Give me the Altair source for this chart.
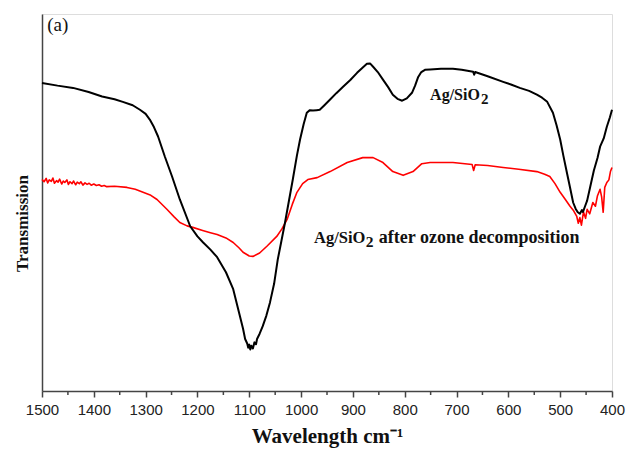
import altair as alt
import pandas as pd

# Ag/SiO2 (black) spectrum: wavenumber (cm-1) and transmission (arb. units)
black_wn = [1500, 1470, 1440, 1410, 1384, 1360, 1344, 1325, 1311, 1300, 1292, 1284, 1276, 1263,
            1249, 1234, 1214, 1200, 1189, 1175, 1162, 1145, 1131, 1118, 1112, 1108, 1104, 1102,
            1100, 1098, 1096, 1093, 1090, 1087, 1085, 1080, 1074, 1067, 1060, 1052, 1045, 1038,
            1031, 1023, 1016, 1008, 1002, 995, 989, 983, 977, 970, 964, 955, 944, 932, 919, 905,
            892, 882, 873, 867, 861, 852, 842, 832, 823, 814, 805, 796, 786, 780, 774, 768, 761,
            751, 730, 707, 690, 668, 666, 664, 640, 610, 595, 578, 560, 545, 535, 525, 514, 507,
            500, 494, 487, 481, 475, 470, 466, 462, 458, 456, 452, 448, 442, 435, 428, 423, 416,
            410, 404, 400]
black_t = [81.7, 81.0, 80.4, 79.3, 78.1, 77.4, 76.7, 75.8, 74.6, 73.5, 72.0, 70.0, 67.5, 62.2,
           56.9, 50.8, 43.7, 41.0, 39.4, 37.5, 35.5, 31.5, 27.0, 19.8, 16.5, 13.8, 12.6, 11.5,
           12.3, 11.0, 12.0, 11.3, 12.9, 12.4, 13.8, 15.2, 17.2, 20.0, 23.5, 28.5, 34.9, 39.8,
           44.7, 50.8, 56.1, 62.5, 66.7, 70.8, 73.8, 74.5, 74.4, 74.5, 74.6, 75.8, 77.3, 79.0, 80.7, 82.5,
           84.4, 85.7, 86.8, 86.9, 86.0, 84.6, 82.6, 80.6, 78.6, 77.5, 77.0, 77.6, 79.1, 81.0, 83.3, 84.6, 85.2,
           85.3, 85.5, 85.5, 85.2, 84.7, 83.9, 84.6, 83.5, 82.0, 81.3, 80.4, 79.6, 78.6, 77.8, 76.7, 73.8, 70.5,
           66.7, 62.5, 57.9, 54.0, 50.0, 48.3, 47.4, 47.0, 48.0, 47.5, 49.0, 50.5, 54.2, 58.5, 61.8, 64.8, 67.0,
           70.1, 72.6, 74.6]

# Ag/SiO2 after ozone decomposition (red) spectrum
red_wn = [1500, 1496, 1492, 1489, 1486, 1482, 1479, 1476, 1472, 1469, 1466, 1462, 1459, 1456,
          1452, 1449, 1446, 1442, 1439, 1435, 1432, 1428, 1425, 1421, 1417, 1413, 1409, 1405,
          1400, 1395, 1390, 1385, 1380, 1375, 1360, 1336, 1320, 1305, 1290, 1278, 1259,
          1245, 1234, 1220, 1209, 1190, 1175, 1162, 1145, 1131, 1120, 1112, 1100, 1093, 1080,
          1066, 1047, 1037, 1027, 1017, 1008, 997, 987, 969, 944, 911, 881, 861, 842, 823, 803,
          784, 767, 751, 707, 670, 667, 664, 640, 610, 580, 545, 530, 520, 510, 500, 490, 481,
          474, 468, 465, 462, 459, 455, 451, 448, 443, 437, 432, 428, 423, 420, 417, 414, 410,
          406, 403, 400]
red_t = [56.1, 55.5, 56.4, 55.2, 56.0, 55.6, 56.5, 55.1, 55.8, 55.4, 56.2, 54.9, 55.7, 55.3,
         56.0, 54.8, 55.5, 55.0, 55.7, 54.7, 55.4, 55.0, 55.5, 54.6, 55.2, 54.8, 55.1, 54.6,
         54.9, 54.5, 54.7, 54.3, 54.5, 54.2, 54.3, 54.0, 53.5, 52.7, 51.9, 50.8, 48.2,
         46.2, 44.7, 43.8, 43.4, 42.6, 42.0, 41.5, 40.6, 39.4, 38.0, 36.8, 35.8, 35.7, 36.6,
         38.4, 41.0, 43.0, 45.5, 49.5, 52.7, 55.0, 56.1, 56.6, 58.2, 60.6, 61.9, 61.9, 60.6, 58.2, 57.2,
         58.2, 60.3, 60.6, 60.6, 60.1, 58.5, 60.0, 59.8, 59.3, 58.8, 58.2, 57.5, 56.9, 55.0, 52.7, 50.8, 49.0,
         47.8, 46.3, 44.5, 46.0, 44.0, 47.5, 45.8, 48.2, 47.0, 50.0, 49.0, 51.8, 53.5, 51.5, 47.4, 54.0, 55.3,
         56.0, 58.2, 59.3]

major_ticks = [1500, 1400, 1300, 1200, 1100, 1000, 900, 800, 700, 600, 500, 400]
minor_ticks = [1450, 1350, 1250, 1150, 1050, 950, 850, 750, 650, 550, 450]

SERIF = "Liberation Serif"
SANS = "Liberation Sans"
AXIS_COLOR = "#444444"

xscale = alt.Scale(domain=[400, 1500], reverse=True, nice=False, zero=False)
yscale = alt.Scale(domain=[0, 100], nice=False, zero=False)

xaxis = alt.Axis(values=major_ticks, format="d", title="Wavelength cm⁻¹",
                 labelFont=SANS, labelFontSize=15, labelColor="#222222", labelPadding=5,
                 labelFlush=False, labelOverlap=False,
                 tickSize=6, tickColor=AXIS_COLOR, tickWidth=1.5,
                 domainColor=AXIS_COLOR, domainWidth=1.5, grid=False,
                 titleFont=SERIF, titleFontSize=21, titleFontWeight="bold", titleColor="#111111",
                 titleY=51, titleBaseline="alphabetic")
yaxis = alt.Axis(labels=False, ticks=False, grid=False,
                 domainColor=AXIS_COLOR, domainWidth=1.5,
                 title="Transmission", titleFont=SERIF, titleFontSize=17, titleFontWeight="bold",
                 titleColor="#111111", titleAngle=270, titleX=-15, titleY=209,
                 titleBaseline="alphabetic")

black_df = pd.DataFrame({"wn": black_wn, "t": black_t})
red_df = pd.DataFrame({"wn": red_wn, "t": red_t})
minor_df = pd.DataFrame({"wn": minor_ticks})

red_line = alt.Chart(red_df).mark_line(color="#ff0000", strokeWidth=1.6, strokeJoin="round").encode(
    x=alt.X("wn:Q", scale=xscale, axis=xaxis),
    y=alt.Y("t:Q", scale=yscale, axis=yaxis),
)
black_line = alt.Chart(black_df).mark_line(color="#000000", strokeWidth=2, strokeJoin="round").encode(
    x=alt.X("wn:Q", scale=xscale, axis=xaxis),
    y=alt.Y("t:Q", scale=yscale, axis=yaxis),
)
minor = alt.Chart(minor_df).mark_rule(color=AXIS_COLOR, strokeWidth=1.5).encode(
    x=alt.X("wn:Q", scale=xscale, axis=xaxis),
    y=alt.value(377),
    y2=alt.value(381),
)


def label(text, wn, t, size, weight="bold", align="left"):
    return alt.Chart().mark_text(text=text, font=SERIF, fontSize=size, fontWeight=weight,
                                 color="#111111", align=align, baseline="alphabetic").encode(
        x=alt.datum(wn), y=alt.datum(t))


labels = [
    label("Ag/SiO", 751, 77.2, 16),
    label("2", 653, 76.1, 15),
    label("Ag/SiO", 975, 39.3, 16.5),
    label("2", 875, 38.2, 15.5),
    label("after ozone decomposition", 850, 39.3, 18),
    label("(a)", 1490, 95.5, 19, weight="normal"),
]

chart = alt.layer(red_line, black_line, minor, *labels).properties(
    width=570, height=377,
    padding={"left": 42, "top": 14, "right": 14, "bottom": 64},
    autosize="none",
).configure_view(stroke="transparent").configure(background="white")

chart.save("out.html", embed_options={"renderer": "svg", "actions": False})
